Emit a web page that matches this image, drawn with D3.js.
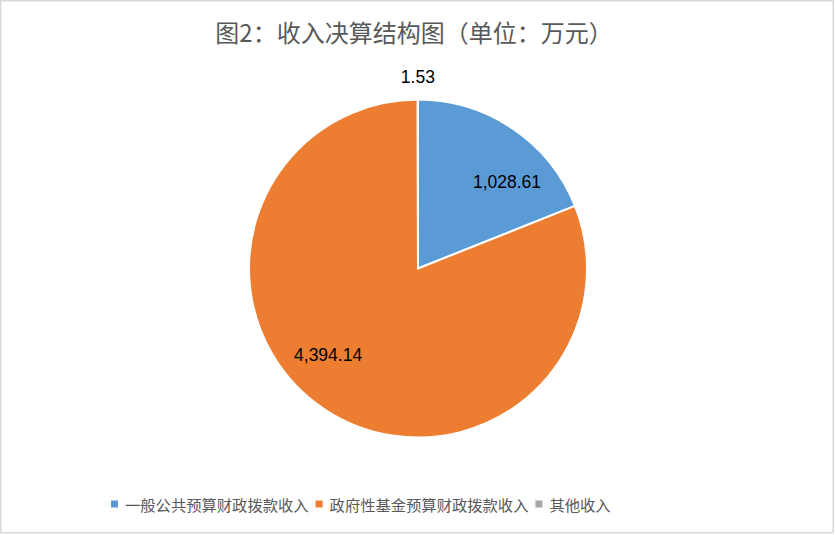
<!DOCTYPE html>
<html>
<head>
<meta charset="utf-8">
<script src="https://cdn.jsdelivr.net/npm/d3@7"></script>
<style>
  html, body { margin: 0; padding: 0; background: #fff; }
  svg { display: block; }
</style>
</head>
<body>
<svg id="chart" width="836" height="535"></svg>
<script>
const titleText = "图2：收入决算结构图（单位：万元）";
const categories = ["一般公共预算财政拨款收入", "政府性基金预算财政拨款收入", "其他收入"];
const values = [1028.61, 4394.14, 1.53];
const labels = ["1,028.61", "4,394.14", "1.53"];
const colors = ["#5B9BD5", "#ED7D31", "#A5A5A5"];

const W = 836, H = 535;
const cx = 418, cy = 268.5, R = 169;
const cjk = "'Noto Sans CJK SC', 'Noto Sans', sans-serif";
const num = "'Liberation Sans', Arial, sans-serif";

const svg = d3.select("#chart");

svg.append("rect")
  .attr("x", 0.75).attr("y", 0.75)
  .attr("width", 832.5).attr("height", 532)
  .attr("fill", "#fff")
  .attr("stroke", "#d9d9d9").attr("stroke-width", 1.5);

svg.append("text")
  .attr("x", cx - 4).attr("y", 31)
  .attr("text-anchor", "middle")
  .attr("dominant-baseline", "central")
  .attr("font-family", cjk)
  .attr("font-size", 24)
  .attr("fill", "#595959")
  .text(titleText);

const data = categories.map((c, i) => ({ name: c, value: values[i], label: labels[i], color: colors[i] }));

const pie = d3.pie().value(d => d.value).sort(null);
const arcs = pie(data);
const arc = d3.arc().innerRadius(0).outerRadius(R);
const inLabelArc = d3.arc().innerRadius(105).outerRadius(105);
const outLabelArc = d3.arc().innerRadius(R + 23).outerRadius(R + 23);

const g = svg.append("g").attr("transform", `translate(${cx},${cy})`);

g.selectAll("path.slice")
  .data(arcs)
  .enter().append("path")
  .attr("class", "slice")
  .attr("d", arc)
  .attr("fill", d => d.data.color)
  .attr("stroke", "#fff")
  .attr("stroke-width", 2)
  .attr("stroke-linejoin", "round");

g.selectAll("text.lbl")
  .data(arcs)
  .enter().append("text")
  .attr("class", "lbl")
  .each(function (d) {
    const sel = d3.select(this);
    const share = (d.endAngle - d.startAngle) / (2 * Math.PI);
    if (share < 0.05) {
      const [x, y] = outLabelArc.centroid(d);
      sel.attr("x", x).attr("y", y).attr("text-anchor", "middle");
    } else {
      const [x, y] = inLabelArc.centroid(d);
      const right = x >= 0;
      sel.attr("x", right ? x - 4 : x + 3)
        .attr("y", y)
        .attr("text-anchor", right ? "start" : "end");
    }
  })
  .attr("dominant-baseline", "central")
  .attr("font-family", num)
  .attr("font-size", 17.5)
  .attr("fill", "#000")
  .text(d => d.data.label);

// Legend
const legend = svg.append("g").attr("transform", "translate(111,504)");
let lx = 0;
data.forEach((d, i) => {
  const item = legend.append("g").attr("transform", `translate(${lx},0)`);
  item.append("rect")
    .attr("x", 0).attr("y", -3.5)
    .attr("width", 7).attr("height", 7)
    .attr("fill", d.color);
  const t = item.append("text")
    .attr("x", 14).attr("y", 0)
    .attr("dominant-baseline", "central")
    .attr("font-family", cjk)
    .attr("font-size", 15.3)
    .attr("fill", "#595959")
    .text(d.name);
  const w = t.node().getComputedTextLength();
  lx += 14 + w + 7;
});
</script>
</body>
</html>
